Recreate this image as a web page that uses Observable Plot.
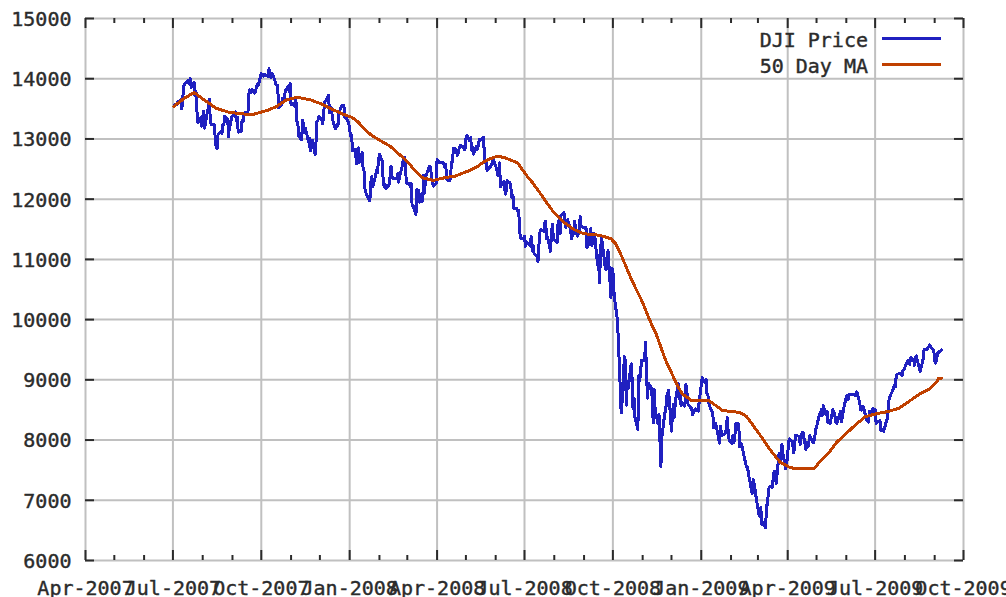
<!DOCTYPE html>
<html><head><meta charset="utf-8">
<script src="https://cdn.jsdelivr.net/npm/d3@7"></script>
<script src="https://cdn.jsdelivr.net/npm/@observablehq/plot@0.6"></script>
<style>
html,body{margin:0;padding:0;background:#fff;}
#wrap{position:relative;width:1006px;height:597px;overflow:hidden;background:#fff;}
.lt{position:absolute;right:138px;font-family:"DejaVu Sans Mono",monospace;font-size:20px;line-height:20px;color:#2b2b2b;white-space:pre;}
.ls{position:absolute;left:882px;width:59px;height:3px;}
svg path{shape-rendering:crispEdges;}
</style></head>
<body><div id="wrap"></div>
<script>
// ---- data ----
const yTicks = [6000,7000,8000,9000,10000,11000,12000,13000,14000,15000];
const xTickDates = ["2007-04-01","2007-07-01","2007-10-01","2008-01-01","2008-04-01","2008-07-01","2008-10-01","2009-01-01","2009-04-01","2009-07-01","2009-10-01"];
const xTickLabels = ["Apr-2007","Jul-2007","Oct-2007","Jan-2008","Apr-2008","Jul-2008","Oct-2008","Jan-2009","Apr-2009","Jul-2009","Oct-2009"];
const seriesNames = ["DJI Price","50 Day MA"];
const seriesColors = ["#2020c0","#c04000"];

const priceData = [
["2007-07-02",13535],["2007-07-03",13577],["2007-07-05",13565],["2007-07-06",13611],["2007-07-09",13649],["2007-07-10",13501],["2007-07-11",13577],["2007-07-12",13861],["2007-07-13",13907],["2007-07-16",13951],["2007-07-17",13971],["2007-07-18",13918],["2007-07-19",14000],["2007-07-20",13851],["2007-07-23",13943],["2007-07-24",13716],["2007-07-25",13785],["2007-07-26",13473],["2007-07-27",13265],["2007-07-30",13358],["2007-07-31",13212],
["2007-08-01",13362],["2007-08-02",13463],["2007-08-03",13181],["2007-08-06",13468],["2007-08-07",13504],["2007-08-08",13658],["2007-08-09",13270],["2007-08-10",13239],["2007-08-13",13236],["2007-08-14",13029],["2007-08-15",12861],["2007-08-16",12846],["2007-08-17",13079],["2007-08-20",13121],["2007-08-21",13090],["2007-08-22",13236],["2007-08-23",13235],["2007-08-24",13379],["2007-08-27",13322],["2007-08-28",13041],["2007-08-29",13289],["2007-08-30",13238],["2007-08-31",13358],
["2007-09-04",13449],["2007-09-05",13306],["2007-09-06",13364],["2007-09-07",13113],["2007-09-10",13128],["2007-09-11",13308],["2007-09-12",13291],["2007-09-13",13425],["2007-09-14",13442],["2007-09-17",13403],["2007-09-18",13739],["2007-09-19",13815],["2007-09-20",13767],["2007-09-21",13821],["2007-09-24",13760],["2007-09-25",13779],["2007-09-26",13878],["2007-09-27",13913],["2007-09-28",13896],
["2007-10-01",14088],["2007-10-02",14047],["2007-10-03",14044],["2007-10-04",14066],["2007-10-05",14066],["2007-10-08",14043],["2007-10-09",14165],["2007-10-10",14079],["2007-10-11",14015],["2007-10-12",14093],["2007-10-15",13985],["2007-10-16",13913],["2007-10-17",13893],["2007-10-18",13889],["2007-10-19",13522],["2007-10-22",13567],["2007-10-23",13676],["2007-10-24",13675],["2007-10-25",13672],["2007-10-26",13807],["2007-10-29",13870],["2007-10-30",13792],["2007-10-31",13930],
["2007-11-01",13567],["2007-11-02",13595],["2007-11-05",13543],["2007-11-06",13660],["2007-11-07",13300],["2007-11-08",13266],["2007-11-09",13043],["2007-11-12",12988],["2007-11-13",13307],["2007-11-14",13231],["2007-11-15",13110],["2007-11-16",13177],["2007-11-19",12958],["2007-11-20",13010],["2007-11-21",12799],["2007-11-23",12981],["2007-11-26",12744],["2007-11-27",12959],["2007-11-28",13289],["2007-11-29",13311],["2007-11-30",13372],
["2007-12-03",13315],["2007-12-04",13249],["2007-12-05",13445],["2007-12-06",13620],["2007-12-07",13625],["2007-12-10",13727],["2007-12-11",13433],["2007-12-12",13474],["2007-12-13",13518],["2007-12-14",13340],["2007-12-17",13168],["2007-12-18",13233],["2007-12-19",13207],["2007-12-20",13246],["2007-12-21",13451],["2007-12-24",13550],["2007-12-26",13552],["2007-12-27",13360],["2007-12-28",13366],["2007-12-31",13265],
["2008-01-02",13044],["2008-01-03",13057],["2008-01-04",12800],["2008-01-07",12827],["2008-01-08",12590],["2008-01-09",12735],["2008-01-10",12853],["2008-01-11",12606],["2008-01-14",12778],["2008-01-15",12501],["2008-01-16",12467],["2008-01-17",12159],["2008-01-18",12099],["2008-01-22",11971],["2008-01-23",12270],["2008-01-24",12379],["2008-01-25",12207],["2008-01-28",12383],["2008-01-29",12480],["2008-01-30",12443],["2008-01-31",12650],
["2008-02-01",12743],["2008-02-04",12635],["2008-02-05",12265],["2008-02-06",12200],["2008-02-07",12248],["2008-02-08",12182],["2008-02-11",12240],["2008-02-12",12373],["2008-02-13",12552],["2008-02-14",12376],["2008-02-15",12348],["2008-02-19",12337],["2008-02-20",12427],["2008-02-21",12284],["2008-02-22",12381],["2008-02-25",12570],["2008-02-26",12684],["2008-02-27",12694],["2008-02-28",12582],["2008-02-29",12266],
["2008-03-03",12258],["2008-03-04",12213],["2008-03-05",12254],["2008-03-06",11893],["2008-03-07",11894],["2008-03-10",11740],["2008-03-11",12156],["2008-03-12",12110],["2008-03-13",12145],["2008-03-14",11951],["2008-03-17",11972],["2008-03-18",12392],["2008-03-19",12099],["2008-03-20",12361],["2008-03-24",12548],["2008-03-25",12533],["2008-03-26",12422],["2008-03-27",12303],["2008-03-28",12216],["2008-03-31",12263],
["2008-04-01",12655],["2008-04-02",12605],["2008-04-03",12626],["2008-04-04",12610],["2008-04-07",12612],["2008-04-08",12577],["2008-04-09",12527],["2008-04-10",12581],["2008-04-11",12325],["2008-04-14",12302],["2008-04-15",12362],["2008-04-16",12619],["2008-04-17",12620],["2008-04-18",12849],["2008-04-21",12825],["2008-04-22",12721],["2008-04-23",12763],["2008-04-24",12849],["2008-04-25",12891],["2008-04-28",12871],["2008-04-29",12832],["2008-04-30",12820],
["2008-05-01",13010],["2008-05-02",13058],["2008-05-05",12969],["2008-05-06",13021],["2008-05-07",12814],["2008-05-08",12867],["2008-05-09",12746],["2008-05-12",12876],["2008-05-13",12832],["2008-05-14",12898],["2008-05-15",12992],["2008-05-16",12986],["2008-05-19",13029],["2008-05-20",12829],["2008-05-21",12601],["2008-05-22",12625],["2008-05-23",12480],["2008-05-27",12548],["2008-05-28",12594],["2008-05-29",12647],["2008-05-30",12638],
["2008-06-02",12503],["2008-06-03",12402],["2008-06-04",12391],["2008-06-05",12604],["2008-06-06",12210],["2008-06-09",12280],["2008-06-10",12289],["2008-06-11",12084],["2008-06-12",12141],["2008-06-13",12307],["2008-06-16",12269],["2008-06-17",12161],["2008-06-18",12029],["2008-06-19",12063],["2008-06-20",11843],["2008-06-23",11842],["2008-06-24",11807],["2008-06-25",11811],["2008-06-26",11453],["2008-06-27",11347],["2008-06-30",11350],
["2008-07-01",11382],["2008-07-02",11216],["2008-07-03",11289],["2008-07-07",11231],["2008-07-08",11384],["2008-07-09",11147],["2008-07-10",11229],["2008-07-11",11100],["2008-07-14",11055],["2008-07-15",10963],["2008-07-16",11239],["2008-07-17",11446],["2008-07-18",11496],["2008-07-21",11467],["2008-07-22",11602],["2008-07-23",11632],["2008-07-24",11349],["2008-07-25",11371],["2008-07-28",11132],["2008-07-29",11397],["2008-07-30",11584],["2008-07-31",11378],
["2008-08-01",11326],["2008-08-04",11284],["2008-08-05",11616],["2008-08-06",11656],["2008-08-07",11432],["2008-08-08",11734],["2008-08-11",11782],["2008-08-12",11642],["2008-08-13",11532],["2008-08-14",11616],["2008-08-15",11659],["2008-08-18",11479],["2008-08-19",11348],["2008-08-20",11417],["2008-08-21",11430],["2008-08-22",11628],["2008-08-25",11386],["2008-08-26",11413],["2008-08-27",11502],["2008-08-28",11715],["2008-08-29",11543],
["2008-09-02",11516],["2008-09-03",11532],["2008-09-04",11188],["2008-09-05",11220],["2008-09-08",11511],["2008-09-09",11231],["2008-09-10",11268],["2008-09-11",11434],["2008-09-12",11421],["2008-09-15",10918],["2008-09-16",11059],["2008-09-17",10609],["2008-09-18",11020],["2008-09-19",11388],["2008-09-22",11016],["2008-09-23",10855],["2008-09-24",10825],["2008-09-25",11023],["2008-09-26",11143],["2008-09-29",10365],["2008-09-30",10851],
["2008-10-01",10831],["2008-10-02",10483],["2008-10-03",10325],["2008-10-06",9955],["2008-10-07",9447],["2008-10-08",9258],["2008-10-09",8579],["2008-10-10",8451],["2008-10-13",9387],["2008-10-14",9310],["2008-10-15",8578],["2008-10-16",8979],["2008-10-17",8852],["2008-10-20",9265],["2008-10-21",9034],["2008-10-22",8519],["2008-10-23",8691],["2008-10-24",8378],["2008-10-27",8175],["2008-10-28",9065],["2008-10-29",8991],["2008-10-30",9180],["2008-10-31",9325],
["2008-11-03",9319],["2008-11-04",9625],["2008-11-05",9139],["2008-11-06",8696],["2008-11-07",8943],["2008-11-10",8870],["2008-11-11",8694],["2008-11-12",8283],["2008-11-13",8836],["2008-11-14",8497],["2008-11-17",8273],["2008-11-18",8424],["2008-11-19",7997],["2008-11-20",7552],["2008-11-21",8046],["2008-11-24",8443],["2008-11-25",8479],["2008-11-26",8727],["2008-11-28",8829],
["2008-12-01",8149],["2008-12-02",8419],["2008-12-03",8591],["2008-12-04",8376],["2008-12-05",8635],["2008-12-08",8934],["2008-12-09",8691],["2008-12-10",8761],["2008-12-11",8565],["2008-12-12",8629],["2008-12-15",8564],["2008-12-16",8924],["2008-12-17",8824],["2008-12-18",8604],["2008-12-19",8579],["2008-12-22",8519],["2008-12-23",8419],["2008-12-24",8468],["2008-12-26",8515],["2008-12-29",8483],["2008-12-30",8668],["2008-12-31",8776],
["2009-01-02",9034],["2009-01-05",8952],["2009-01-06",9015],["2009-01-07",8769],["2009-01-08",8742],["2009-01-09",8599],["2009-01-12",8474],["2009-01-13",8448],["2009-01-14",8200],["2009-01-15",8212],["2009-01-16",8281],["2009-01-20",7949],["2009-01-21",8228],["2009-01-22",8123],["2009-01-23",8077],["2009-01-26",8116],["2009-01-27",8175],["2009-01-28",8375],["2009-01-29",8149],["2009-01-30",8001],
["2009-02-02",7936],["2009-02-03",8078],["2009-02-04",7956],["2009-02-05",8063],["2009-02-06",8280],["2009-02-09",8270],["2009-02-10",7888],["2009-02-11",7939],["2009-02-12",7932],["2009-02-13",7850],["2009-02-17",7553],["2009-02-18",7555],["2009-02-19",7466],["2009-02-20",7365],["2009-02-23",7114],["2009-02-24",7351],["2009-02-25",7271],["2009-02-26",7183],["2009-02-27",7063],
["2009-03-02",6763],["2009-03-03",6726],["2009-03-04",6876],["2009-03-05",6595],["2009-03-06",6627],["2009-03-09",6547],["2009-03-10",6926],["2009-03-11",6930],["2009-03-12",7170],["2009-03-13",7224],["2009-03-16",7216],["2009-03-17",7395],["2009-03-18",7486],["2009-03-19",7401],["2009-03-20",7279],["2009-03-23",7776],["2009-03-24",7660],["2009-03-25",7750],["2009-03-26",7925],["2009-03-27",7776],["2009-03-30",7522],["2009-03-31",7609],
["2009-04-01",7762],["2009-04-02",7978],["2009-04-03",8018],["2009-04-06",7975],["2009-04-07",7790],["2009-04-08",7837],["2009-04-09",8083],["2009-04-13",8058],["2009-04-14",7920],["2009-04-15",8029],["2009-04-16",8125],["2009-04-17",8131],["2009-04-20",7842],["2009-04-21",7969],["2009-04-22",7886],["2009-04-23",7957],["2009-04-24",8076],["2009-04-27",7965],["2009-04-28",7957],["2009-04-29",8016],["2009-04-30",8168],
["2009-05-01",8212],["2009-05-04",8426],["2009-05-05",8410],["2009-05-06",8512],["2009-05-07",8409],["2009-05-08",8574],["2009-05-11",8418],["2009-05-12",8469],["2009-05-13",8284],["2009-05-14",8331],["2009-05-15",8268],["2009-05-18",8504],["2009-05-19",8474],["2009-05-20",8422],["2009-05-21",8292],["2009-05-22",8277],["2009-05-26",8473],["2009-05-27",8300],["2009-05-28",8403],["2009-05-29",8500],
["2009-06-01",8721],["2009-06-02",8740],["2009-06-03",8675],["2009-06-04",8750],["2009-06-05",8764],["2009-06-08",8764],["2009-06-09",8763],["2009-06-10",8739],["2009-06-11",8770],["2009-06-12",8799],["2009-06-15",8612],["2009-06-16",8504],["2009-06-17",8497],["2009-06-18",8555],["2009-06-19",8539],["2009-06-22",8339],["2009-06-23",8323],["2009-06-24",8299],["2009-06-25",8472],["2009-06-26",8438],["2009-06-29",8529],["2009-06-30",8447],
["2009-07-01",8504],["2009-07-02",8280],["2009-07-06",8324],["2009-07-07",8163],["2009-07-08",8178],["2009-07-09",8183],["2009-07-10",8146],["2009-07-13",8332],["2009-07-14",8359],["2009-07-15",8616],["2009-07-16",8711],["2009-07-17",8743],["2009-07-20",8848],["2009-07-21",8915],["2009-07-22",8882],["2009-07-23",9069],["2009-07-24",9093],["2009-07-27",9108],["2009-07-28",9096],["2009-07-29",9070],["2009-07-30",9154],["2009-07-31",9172],
["2009-08-03",9286],["2009-08-04",9320],["2009-08-05",9280],["2009-08-06",9256],["2009-08-07",9370],["2009-08-10",9337],["2009-08-11",9241],["2009-08-12",9362],["2009-08-13",9398],["2009-08-14",9321],["2009-08-17",9135],["2009-08-18",9217],["2009-08-19",9279],["2009-08-20",9350],["2009-08-21",9505],["2009-08-24",9509],["2009-08-25",9539],["2009-08-26",9543],["2009-08-27",9580],["2009-08-28",9544],["2009-08-31",9496],
["2009-09-01",9310],["2009-09-02",9280],["2009-09-03",9344],["2009-09-04",9441],["2009-09-08",9497]
];

const maData = [
["2007-07-02",13540],["2007-07-12",13666],["2007-07-23",13771],["2007-08-01",13666],["2007-08-15",13510],["2007-08-28",13444],["2007-09-10",13417],["2007-09-22",13406],["2007-10-07",13472],["2007-10-17",13539],["2007-10-27",13645],["2007-11-07",13693],["2007-11-21",13650],["2007-12-04",13572],["2007-12-15",13483],["2007-12-26",13406],
["2008-01-03",13361],["2008-01-10",13278],["2008-01-17",13151],["2008-01-24",13057],["2008-02-03",12962],["2008-02-12",12880],["2008-02-21",12753],["2008-02-29",12642],["2008-03-09",12476],["2008-03-17",12355],["2008-03-28",12310],["2008-04-04",12338],["2008-04-12",12366],["2008-04-19",12377],["2008-04-26",12421],["2008-05-03",12464],["2008-05-12",12531],["2008-05-19",12614],["2008-05-26",12670],["2008-06-02",12708],["2008-06-09",12697],["2008-06-18",12642],["2008-06-24",12597],["2008-06-29",12487],["2008-07-04",12376],["2008-07-09",12281],["2008-07-14",12172],["2008-07-19",12061],["2008-07-25",11922],["2008-07-30",11812],["2008-08-04",11730],["2008-08-11",11617],["2008-08-22",11491],["2008-09-01",11425],["2008-09-12",11413],["2008-09-22",11380],["2008-09-29",11342],["2008-10-04",11259],["2008-10-09",11093],["2008-10-15",10871],["2008-10-20",10678],["2008-10-25",10512],["2008-10-31",10317],["2008-11-05",10123],["2008-11-10",9930],["2008-11-15",9764],["2008-11-20",9542],["2008-11-25",9321],["2008-11-30",9155],["2008-12-05",8975],["2008-12-12",8768],["2008-12-22",8657],
["2009-01-09",8657],["2009-01-16",8574],["2009-01-23",8491],["2009-02-10",8458],["2009-02-17",8396],["2009-02-24",8242],["2009-03-06",8021],["2009-03-13",7853],["2009-03-24",7632],["2009-04-03",7548],["2009-04-07",7532],["2009-04-29",7532],["2009-05-04",7632],["2009-05-13",7771],["2009-05-22",7964],["2009-06-01",8110],["2009-06-11",8260],["2009-06-21",8390],["2009-07-05",8447],["2009-07-15",8475],["2009-07-26",8530],["2009-08-06",8650],["2009-08-16",8760],["2009-08-27",8850],["2009-09-03",8960],["2009-09-05",9027],["2009-09-08",9027]
];

// ---- build ----
const parse = d3.utcParse("%Y-%m-%d");
const price = priceData.map(([d, v]) => ({date: parse(d), value: v}));
const ma = maData.map(([d, v]) => ({date: parse(d), value: v}));
const xMajor = xTickDates.map(parse);
const xDomain = [xMajor[0], xMajor[xMajor.length - 1]];
const xMinor = d3.utcMonth.range(xDomain[0], xDomain[1]).filter(d => d.getUTCMonth() % 3 !== 0);

const W = 1006, H = 597, ML = 85, MR = 43, MT = 18, MB = 37;
const FW = W - ML - MR, FH = H - MT - MB;
const font = '"DejaVu Sans Mono", monospace';
const ink = "#2b2b2b";
const grid = "#c0c0c0";

const chart = Plot.plot({
  width: W, height: H,
  marginLeft: ML, marginRight: MR, marginTop: MT, marginBottom: MB,
  style: {fontFamily: font, fontSize: "20px", color: ink, background: "#fff"},
  x: {type: "utc", domain: xDomain, axis: null},
  y: {domain: [6000, 15000], axis: null},
  marks: [
    Plot.gridY(yTicks, {stroke: grid, strokeOpacity: 1, strokeWidth: 2}),
    Plot.gridX(xMajor, {stroke: grid, strokeOpacity: 1, strokeWidth: 2}),
    // y ticks, left and right, pointing inward
    Plot.tickY(yTicks, {y: d => d, stroke: ink, strokeWidth: 2, insetRight: FW - 9}),
    Plot.tickY(yTicks, {y: d => d, stroke: ink, strokeWidth: 2, insetLeft: FW - 9}),
    // x ticks bottom & top
    Plot.tickX(xMajor, {x: d => d, stroke: ink, strokeWidth: 2, insetTop: FH - 10}),
    Plot.tickX(xMinor, {x: d => d, stroke: ink, strokeWidth: 2, insetTop: FH - 5}),
    Plot.tickX(xMajor, {x: d => d, stroke: ink, strokeWidth: 2, insetBottom: FH - 10}),
    Plot.tickX(xMinor, {x: d => d, stroke: ink, strokeWidth: 2, insetBottom: FH - 5}),
    // series
    Plot.line(price, {x: "date", y: "value", stroke: seriesColors[0], strokeWidth: 3, shapeRendering: "crispEdges"}),
    Plot.line(ma, {x: "date", y: "value", stroke: seriesColors[1], strokeWidth: 3, shapeRendering: "crispEdges"}),
    // labels
    Plot.text(yTicks, {y: d => d, text: d => String(d), frameAnchor: "left", textAnchor: "end", dx: -14, dy: 1, fill: ink, fontSize: 20, fontFamily: font, stroke: ink, strokeWidth: 0.4}),
    Plot.text(xMajor, {x: d => d, text: (d, i) => xTickLabels[i], frameAnchor: "bottom", lineAnchor: "bottom", dy: 34, fill: ink, fontSize: 20, fontFamily: font, stroke: ink, strokeWidth: 0.4})
  ]
});

const wrap = document.getElementById("wrap");
wrap.appendChild(chart);

// legend (top-right, inside plot)
const legTops = [30, 56];
const swTops = [37, 63];
seriesNames.forEach((name, i) => {
  const t = document.createElement("div");
  t.className = "lt";
  t.style.top = legTops[i] + "px";
  t.style.webkitTextStroke = "0.4px #2b2b2b";
  t.textContent = name;
  wrap.appendChild(t);
  const s = document.createElement("div");
  s.className = "ls";
  s.style.top = swTops[i] + "px";
  s.style.background = seriesColors[i];
  wrap.appendChild(s);
});
</script>
</body></html>
